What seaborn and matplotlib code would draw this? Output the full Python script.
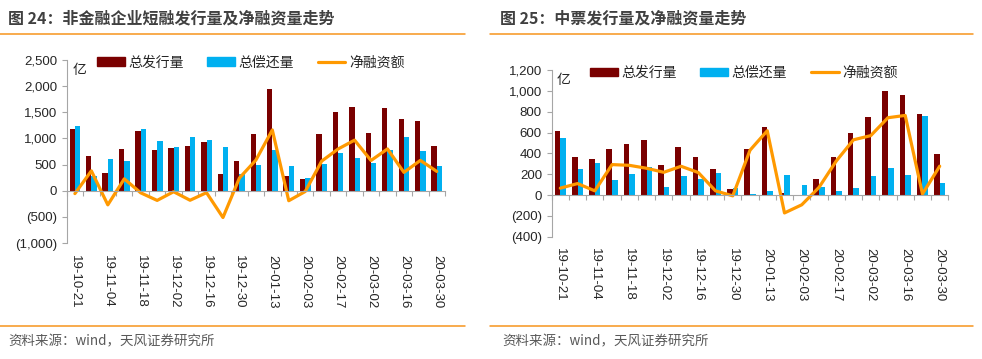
import matplotlib
matplotlib.use("Agg")
import matplotlib.pyplot as plt
from matplotlib.lines import Line2D
from matplotlib.ticker import FuncFormatter, MultipleLocator
import seaborn as sns
import pandas as pd
import numpy as np

# weekly dates (the Spring Festival week 20-01-27 is missing)
dates = ["19-10-21", "19-10-28", "19-11-04", "19-11-11", "19-11-18", "19-11-25",
         "19-12-02", "19-12-09", "19-12-16", "19-12-23", "19-12-30", "20-01-06",
         "20-01-13", "20-01-20", "20-02-03", "20-02-10", "20-02-17", "20-02-24",
         "20-03-02", "20-03-09", "20-03-16", "20-03-23", "20-03-30"]

# figure 24: short-term financing bills (亿)
cp_issue = [1185, 665, 335, 790, 1145, 770, 808, 850, 935, 315, 570, 1085,
            1950, 290, 230, 1085, 1510, 1595, 1110, 1575, 1370, 1330, 850]
cp_repay = [1240, 285, 605, 563, 1185, 955, 827, 1032, 972, 827, 327, 500,
            788, 481, 245, 519, 712, 628, 532, 776, 1019, 750, 481]
cp_net = [-55, 380, -270, 227, -40, -185, -19, -182, -37, -512, 243, 585,
          1162, -191, -15, 566, 798, 967, 578, 799, 351, 580, 369]

# figure 25: medium-term notes (亿)
mtn_issue = [614, 361, 342, 438, 489, 527, 291, 457, 367, 252, 55, 438,
             652, 22, 0, 153, 361, 597, 751, 997, 958, 773, 390]
mtn_repay = [546, 252, 304, 144, 201, 272, 73, 182, 153, 211, 64, 8,
             35, 192, 93, 80, 35, 64, 182, 256, 192, 760, 115]
mtn_net = [66, 110, 40, 292, 285, 257, 218, 276, 216, 40, -8, 430,
           617, -172, -94, 73, 326, 530, 570, 742, 764, 10, 277]

series_names = ["总发行量", "总偿还量", "净融资额"]
palette = {"总发行量": "#7A0000", "总偿还量": "#00B0F0"}
line_color = "#FF9900"
axis_grey = "#A6A6A6"
accent = "#F7941D"

sns.set_style("white")
plt.rcParams["font.family"] = ["Liberation Sans", "Noto Sans CJK SC"]


def paren_fmt(v, pos):
    if v < 0:
        return f"({abs(v):,.0f})"
    return f"{v:,.0f}"


def draw_panel(ax, issue, repay, net, ylim, ystep, label_pad, legend_anchor, unit_xy):
    bars = pd.DataFrame({
        "date": dates * 2,
        "series": [series_names[0]] * len(dates) + [series_names[1]] * len(dates),
        "value": issue + repay,
    })
    sns.barplot(data=bars, x="date", y="value", hue="series", palette=palette,
                width=0.65, linewidth=0, saturation=1, ax=ax, legend=False)
    sns.lineplot(x=dates, y=net, sort=False, color=line_color, linewidth=2.3,
                 ax=ax, label=series_names[2])

    ax.set_xlim(-0.5, len(dates) - 0.5)
    ax.set_ylim(*ylim)
    ax.yaxis.set_major_locator(MultipleLocator(ystep))
    ax.yaxis.set_major_formatter(FuncFormatter(paren_fmt))
    ax.set_xlabel("")
    ax.set_ylabel("")

    # category axis sits on zero, labels hang below the plot
    ax.spines["bottom"].set_position(("data", 0))
    ax.spines["bottom"].set_color(axis_grey)
    ax.spines["left"].set_color(axis_grey)
    ax.spines["top"].set_visible(False)
    ax.spines["right"].set_visible(False)
    ax.set_xticks(range(0, len(dates), 2))
    ax.set_xticklabels(dates[::2])
    ax.set_xticks(np.arange(-0.5, len(dates), 1), minor=True)
    ax.tick_params(axis="x", which="major", length=0, pad=label_pad,
                   labelrotation=270, labelsize=9.5, labelcolor="#262626")
    ax.tick_params(axis="x", which="minor", length=3.5, width=0.8,
                   color=axis_grey, direction="out", bottom=True)
    ax.tick_params(axis="y", length=3.5, width=0.8, color=axis_grey,
                   direction="out", left=True, labelsize=9.5, labelcolor="#262626")

    handles, labels = ax.get_legend_handles_labels()
    bar_handles = [plt.Rectangle((0, 0), 1, 1, color=palette[n]) for n in series_names[:2]]
    ax.legend(handles=bar_handles + handles, labels=series_names[:2] + labels,
              loc="center left", bbox_to_anchor=legend_anchor, ncol=3,
              frameon=False, fontsize=10, handlelength=2.0, handleheight=0.55,
              handletextpad=0.25, columnspacing=1.7, borderpad=0, borderaxespad=0)
    ax.text(unit_xy[0], unit_xy[1], "亿", transform=ax.transAxes, fontsize=10,
            ha="center", va="center", color="#262626")


fig = plt.figure(figsize=(9.82, 3.59), dpi=100)
ax1 = fig.add_axes([0.0679, 0.323, 0.3853, 0.510])
ax2 = fig.add_axes([0.5618, 0.3407, 0.4039, 0.4643])

draw_panel(ax1, cp_issue, cp_repay, cp_net, (-1000, 2500), 500, 46,
           (0.08, 0.986), (0.035, 0.945))
draw_panel(ax2, mtn_issue, mtn_repay, mtn_net, (-400, 1200), 200, 38,
           (0.0966, 0.982), (0.031, 0.94))

# titles, separators and source notes
title_kw = dict(fontsize=11.5, fontweight="bold", color="#404040", va="center",
                family=["Noto Sans CJK SC", "DejaVu Sans"])
fig.text(0.008, 0.95, "图 24：非金融企业短融发行量及净融资量走势", **title_kw)
fig.text(0.509, 0.95, "图 25：中票发行量及净融资量走势", **title_kw)

for x0, x1 in [(0.0, 0.4735), (0.499, 0.991)]:
    fig.add_artist(Line2D([x0, x1], [0.905, 0.905], color=accent, linewidth=1.1))
    fig.add_artist(Line2D([x0, x1], [0.092, 0.092], color=accent, linewidth=1.1))

src_kw = dict(fontsize=9.7, color="#595959", va="center",
              family=["Noto Sans CJK SC", "DejaVu Sans"])
fig.text(0.008, 0.05, "资料来源：wind，天风证券研究所", **src_kw)
fig.text(0.511, 0.05, "资料来源：wind，天风证券研究所", **src_kw)

fig.savefig("out.png", dpi=100)
